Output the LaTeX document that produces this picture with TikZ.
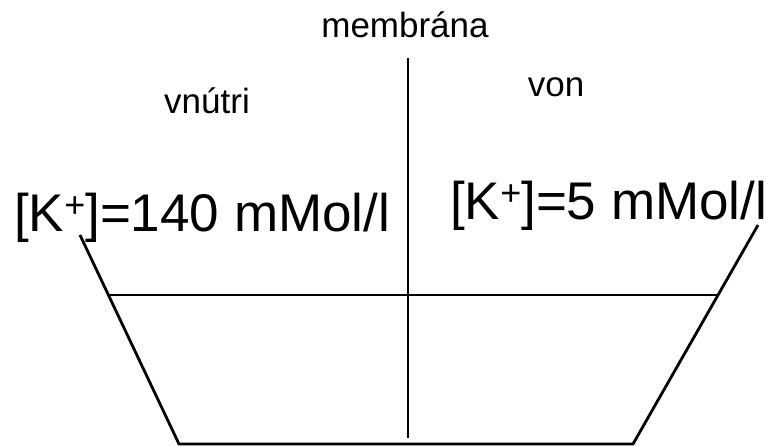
\documentclass[tikz,border=0pt]{standalone}
\usepackage{fontspec}
\setmainfont{Liberation Sans}
% raised plus sign of the ion charge
\newcommand{\ionplus}{\raisebox{14pt}{\fontsize{36}{36}\selectfont +}}
\begin{document}
\begin{tikzpicture}[x=1pt,y=-1pt,
  wall/.style={draw=black,line width=2.8pt},
  small/.style={font=\fontsize{35}{42}\selectfont, inner sep=0pt, anchor=base},
  big/.style={font=\fontsize{53}{64}\selectfont, inner sep=0pt, anchor=base west}]
\useasboundingbox (0,0) rectangle (770,446);

% labels
\node[small] (mem) at (405,38) {membrána};
\node[small] (inside) at (207,114) {vnútri};
\node[small] (outside) at (556,97) {von};
\node[big] (kin) at (14,232) {[K\ionplus]=140 mMol/l};
\node[big] (kout) at (450,220) {[K\ionplus]=5 mMol/l};

% vessel outline
\coordinate (tl) at (80,235);
\coordinate (bl) at (179,444);
\coordinate (br) at (633,444);
\coordinate (tr) at (758,225);
\coordinate (ml) at (108.4,295);
\coordinate (mr) at (718.2,295);
\coordinate (mtop) at (408,58);
\coordinate (mbot) at (408,438);

\draw[wall] (tl) -- (bl) -- (br) -- (tr);
\draw[wall] (ml) -- (mr);
\draw[wall] (mtop) -- (mbot);
\end{tikzpicture}
\end{document}
